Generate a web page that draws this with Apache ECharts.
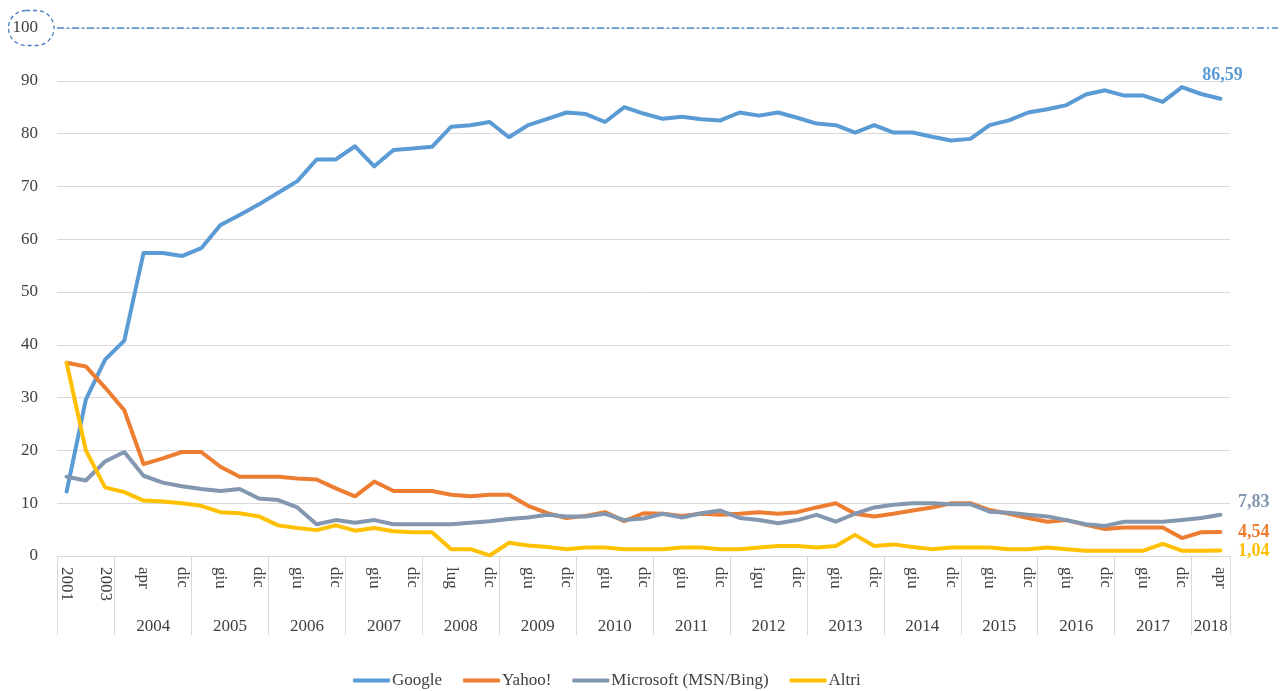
<!DOCTYPE html>
<html>
<head>
<meta charset="utf-8">
<script src="https://cdn.jsdelivr.net/npm/echarts@6/dist/echarts.min.js"></script>
<style>
html,body{margin:0;padding:0;background:#fff;}
#chart{width:1282px;height:691px;}
</style>
</head>
<body>
<div id="chart"></div>
<script>
// ---- DATA ----
const yearLabels = ['', '2004', '2005', '2006', '2007', '2008', '2009', '2010', '2011', '2012', '2013', '2014', '2015', '2016', '2017', '2018'];
const periodLabels = [
  ['2001', '2002', '2003'],
  ['gen', 'apr', 'ago', 'dic'],
  ['mar', 'giu', 'set', 'dic'],
  ['mar', 'giu', 'set', 'dic'],
  ['mar', 'giu', 'set', 'dic'],
  ['mar', 'lug', 'set', 'dic'],
  ['mar', 'giu', 'set', 'dic'],
  ['mar', 'giu', 'set', 'dic'],
  ['mar', 'giu', 'set', 'dic'],
  ['mar', 'igu', 'set', 'dic'],
  ['mar', 'giu', 'set', 'dic'],
  ['mar', 'giu', 'set', 'dic'],
  ['mar', 'giu', 'set', 'dic'],
  ['mar', 'giu', 'set', 'dic'],
  ['mar', 'giu', 'set', 'dic'],
  ['gen', 'apr']
];
const seriesNames = ['Google', 'Yahoo!', 'Microsoft (MSN/Bing)', 'Altri'];
const google = [12.2, 29.6, 37.2, 40.8, 57.4, 57.4, 56.8, 58.3, 62.7, 64.6, 66.6, 68.8, 71.0, 75.1, 75.1,
  77.6, 73.8, 76.9, 77.2, 77.5, 81.3, 81.6, 82.2, 79.3, 81.6, 82.8, 84.0, 83.7, 82.2, 85.0,
  83.8, 82.8, 83.2, 82.7, 82.5, 84.0, 83.4, 84.0, 83.0, 81.9, 81.6, 80.2, 81.6, 80.2, 80.2,
  79.4, 78.7, 79.0, 81.6, 82.5, 84.0, 84.6, 85.4, 87.4, 88.2, 87.2, 87.2, 86.0, 88.8, 87.5, 86.59];
const yahoo = [36.6, 35.9, 31.9, 27.6, 17.4, 18.5, 19.7, 19.7, 16.9, 15.0, 15.0, 15.0, 14.7, 14.5, 12.8,
  11.3, 14.1, 12.3, 12.3, 12.3, 11.6, 11.3, 11.6, 11.6, 9.5, 8.1, 7.2, 7.6, 8.3, 6.6,
  8.1, 8.0, 7.6, 8.0, 7.8, 8.0, 8.3, 8.0, 8.3, 9.2, 10.0, 8.0, 7.5, 8.0, 8.6,
  9.2, 10.0, 10.0, 8.7, 8.0, 7.2, 6.5, 6.8, 5.9, 5.1, 5.4, 5.4, 5.4, 3.4, 4.5, 4.54];
const microsoft = [15.0, 14.3, 17.9, 19.7, 15.2, 13.9, 13.2, 12.7, 12.3, 12.7, 10.9, 10.6, 9.2, 6.0, 6.8,
  6.3, 6.8, 6.0, 6.0, 6.0, 6.0, 6.3, 6.6, 7.0, 7.3, 7.8, 7.5, 7.5, 8.0, 6.8,
  7.1, 8.0, 7.3, 8.1, 8.6, 7.2, 6.8, 6.2, 6.8, 7.8, 6.5, 8.0, 9.2, 9.7, 10.0,
  10.0, 9.8, 9.8, 8.4, 8.2, 7.8, 7.5, 6.8, 6.0, 5.7, 6.5, 6.5, 6.5, 6.8, 7.2, 7.83];
const altri = [36.6, 20.0, 13.0, 12.1, 10.5, 10.3, 10.0, 9.5, 8.3, 8.1, 7.5, 5.8, 5.3, 4.9, 5.8,
  4.8, 5.3, 4.7, 4.5, 4.5, 1.3, 1.3, 0.1, 2.5, 2.0, 1.7, 1.3, 1.6, 1.6, 1.3,
  1.3, 1.3, 1.6, 1.6, 1.3, 1.3, 1.6, 1.9, 1.9, 1.6, 1.9, 4.0, 1.9, 2.2, 1.7,
  1.3, 1.6, 1.6, 1.6, 1.3, 1.3, 1.6, 1.3, 1.0, 1.0, 1.0, 1.0, 2.3, 1.0, 1.0, 1.04];
const yTicks = [0, 10, 20, 30, 40, 50, 60, 70, 80, 90, 100];

// ---- BUILD ----
const FONT = "'Liberation Serif', 'DejaVu Serif', serif";
const TXT = '#404040';
const GRIDC = '#d9d9d9';
const colors = ['#5B9BD5', '#ED7D31', '#8497B0', '#FFC000'];
const categories = periodLabels.flat();
const N = categories.length;
const groupStarts = [];
const yearCenters = {};
let acc = 0;
periodLabels.forEach((g, gi) => {
  groupStarts.push(acc);
  if (yearLabels[gi]) yearCenters[acc + g.length / 2] = yearLabels[gi];
  acc += g.length;
});
const fmt = v => v.toFixed(2).replace('.', ',');

const endLabelCfg = [
  { position: 'top', distance: 14, offset: [2, 0] },
  { position: 'right', distance: 17, offset: [0, 0] },
  { position: 'right', distance: 17, offset: [0, -12] },
  { position: 'right', distance: 17, offset: [0, 1] }
];
const allData = [google, yahoo, microsoft, altri];

const series = allData.map((arr, si) => ({
  name: seriesNames[si],
  type: 'line',
  symbol: 'none',
  showSymbol: true,
  showAllSymbol: true,
  smooth: false,
  animation: false,
  lineStyle: { width: 4, color: colors[si], join: 'round', cap: 'round' },
  itemStyle: { color: colors[si] },
  data: arr.map((v, i) => i === arr.length - 1 ? {
    value: v,
    symbol: 'circle',
    symbolSize: 1,
    label: {
      show: true,
      formatter: p => fmt(p.value),
      position: endLabelCfg[si].position,
      distance: endLabelCfg[si].distance,
      offset: endLabelCfg[si].offset,
      color: colors[si],
      fontFamily: FONT,
      fontSize: 18,
      fontWeight: 'bold'
    }
  } : v)
}));

const chart = echarts.init(document.getElementById('chart'), null, { renderer: 'canvas' });
const option = {
  animation: false,
  backgroundColor: '#ffffff',
  textStyle: { fontFamily: FONT, color: TXT },
  color: colors,
  grid: { left: 57, right: 52, top: 28, bottom: 135, containLabel: false },
  legend: {
    left: 348,
    top: 667,
    icon: 'roundRect',
    itemWidth: 37,
    itemHeight: 4,
    itemGap: 21,
    textStyle: { fontFamily: FONT, fontSize: 17, color: TXT, padding: [0, 0, 0, -3] },
    data: seriesNames
  },
  xAxis: [
    {
      type: 'category',
      data: categories,
      boundaryGap: true,
      axisLine: { show: true, lineStyle: { color: GRIDC, width: 1 } },
      axisTick: {
        show: true,
        length: 79,
        lineStyle: { color: GRIDC, width: 1 },
        interval: (idx) => groupStarts.indexOf(idx) !== -1
      },
      axisLabel: {
        interval: 1,
        rotate: -90,
        margin: 11,
        fontFamily: FONT,
        fontSize: 17,
        color: TXT
      },
      splitLine: { show: false }
    },
    {
      type: 'value',
      position: 'bottom',
      offset: 54,
      min: 0,
      max: N,
      interval: 1,
      axisLine: { show: false },
      axisTick: { show: false },
      splitLine: { show: false },
      axisLabel: {
        margin: 8,
        fontFamily: FONT,
        fontSize: 17,
        color: TXT,
        showMinLabel: true,
        showMaxLabel: true,
        formatter: v => yearCenters[v] || ''
      }
    }
  ],
  yAxis: {
    type: 'value',
    min: yTicks[0],
    max: yTicks[yTicks.length - 1],
    interval: yTicks[1] - yTicks[0],
    axisLine: { show: false },
    axisTick: { show: false },
    splitLine: { show: true, lineStyle: { color: GRIDC, width: 1 } },
    axisLabel: {
      margin: 3,
      fontFamily: FONT,
      fontSize: 17,
      color: TXT,
      formatter: v => v === yTicks[yTicks.length - 1] ? '{c|' + v + '}' : '{n|' + v + '}',
      rich: {
        n: { fontFamily: FONT, fontSize: 17, color: TXT, padding: [0, 16, 0, 0] },
        c: {
          fontFamily: FONT, fontSize: 17, color: TXT,
          padding: [9, 16, 9, 4],
          borderColor: '#4A7EBB',
          borderWidth: 1.3,
          borderType: [4, 3],
          borderRadius: 18
        }
      }
    }
  },
  series: series
};
chart.setOption(option);

// dash-dot reference line at the top value, extending past the plot area
const yTop = chart.convertToPixel({ yAxisIndex: 0 }, yTicks[yTicks.length - 1]);
chart.setOption({
  graphic: [{
    type: 'line',
    silent: true,
    z: 100,
    shape: { x1: 57, y1: yTop, x2: 1278, y2: yTop },
    style: { stroke: '#4F8FCF', lineWidth: 1.4, lineDash: [7, 3, 2, 3] }
  }]
});
</script>
</body>
</html>
